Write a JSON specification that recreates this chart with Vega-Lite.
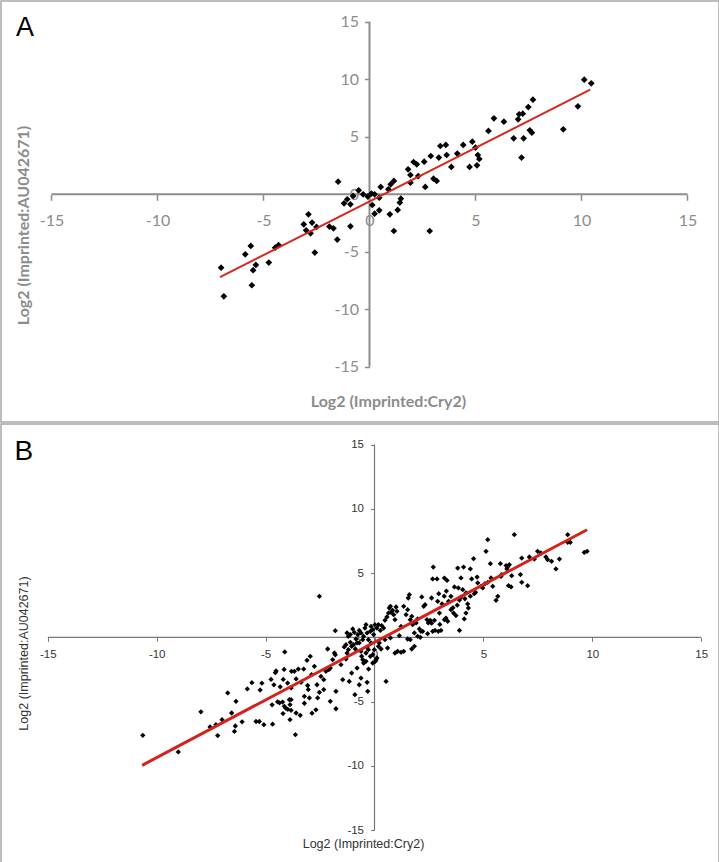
{
  "$schema": "https://vega.github.io/schema/vega-lite/v6.json",
  "padding": 0,
  "autosize": {"type": "pad"},
  "background": "white",
  "spacing": 0,
  "config": {"view": {"stroke": "#a8a8a8", "strokeWidth": 1.5}},
  "datasets": {
    "ptsA": [
      {"x":-7.0,"y":-6.38},{"x":-6.87,"y":-8.87},{"x":-5.86,"y":-5.22},{"x":-5.6,"y":-4.49},{"x":-5.49,"y":-6.6},{"x":-5.36,"y":-6.14},{"x":-5.55,"y":-7.91},{"x":-4.75,"y":-5.94},{"x":-4.45,"y":-4.64},{"x":-4.29,"y":-4.41},
      {"x":-3.1,"y":-2.61},{"x":-2.88,"y":-1.74},{"x":-2.99,"y":-3.13},{"x":-2.78,"y":-3.39},{"x":-2.71,"y":-2.46},{"x":-2.5,"y":-2.84},{"x":-2.58,"y":-5.07},{"x":-1.89,"y":-2.81},{"x":-1.7,"y":-2.96},{"x":-1.52,"y":-3.94},
      {"x":-1.48,"y":1.1},{"x":-1.2,"y":-0.78},{"x":-1.05,"y":-0.43},{"x":-0.9,"y":-0.87},{"x":-0.9,"y":-2.78},{"x":-0.77,"y":-0.14},{"x":-0.51,"y":0.35},{"x":-0.3,"y":0},{"x":-0.08,"y":-0.2},{"x":0.09,"y":0.06},
      {"x":0.24,"y":0},{"x":0.13,"y":-0.93},{"x":0.24,"y":-1.68},{"x":0.46,"y":-1.39},{"x":0.46,"y":-0.29},{"x":0.53,"y":0.64},{"x":0.89,"y":0.43},{"x":1.0,"y":0.87},{"x":1.15,"y":1.16},{"x":0.96,"y":-1.74},
      {"x":1.15,"y":-3.19},{"x":1.33,"y":-1.36},{"x":1.48,"y":-0.38},{"x":1.43,"y":-0.72},{"x":1.82,"y":2.17},{"x":1.93,"y":1.68},{"x":1.93,"y":1.01},{"x":2.08,"y":2.81},{"x":2.23,"y":2.61},{"x":2.3,"y":1.59},
      {"x":2.58,"y":2.84},{"x":2.63,"y":0.64},{"x":2.84,"y":-3.19},{"x":2.89,"y":3.33},{"x":3.02,"y":1.36},{"x":3.17,"y":1.16},{"x":3.27,"y":3.19},{"x":3.34,"y":4.2},{"x":3.6,"y":4.29},{"x":3.64,"y":3.42},
      {"x":3.86,"y":2.38},{"x":4.14,"y":3.54},{"x":4.42,"y":4.29},{"x":4.72,"y":2.38},{"x":4.85,"y":4.58},{"x":5.0,"y":4.06},{"x":5.07,"y":2.52},{"x":5.11,"y":3.42},{"x":5.18,"y":3.07},{"x":5.61,"y":5.51},
      {"x":5.87,"y":6.61},{"x":6.34,"y":6.32},{"x":6.8,"y":4.87},{"x":7.01,"y":6.52},{"x":7.06,"y":6.96},{"x":7.23,"y":7.01},{"x":7.17,"y":3.19},{"x":7.27,"y":4.87},{"x":7.49,"y":7.59},{"x":7.56,"y":5.57},
      {"x":7.66,"y":5.36},{"x":7.71,"y":8.23},{"x":9.14,"y":5.65},{"x":9.83,"y":7.65},{"x":10.13,"y":9.97},{"x":10.46,"y":9.65}
    ],
    "ptsB": [
      {"x":-10.64,"y":-7.63},{"x":-9.01,"y":-8.92},{"x":-7.97,"y":-5.8},{"x":-7.55,"y":-6.98},{"x":-7.28,"y":-6.8},{"x":-7.2,"y":-7.65},{"x":-7.0,"y":-6.41},{"x":-6.74,"y":-4.33},{"x":-6.56,"y":-5.89},{"x":-6.43,"y":-7.32},
      {"x":-6.39,"y":-6.9},{"x":-6.36,"y":-4.98},{"x":-6.08,"y":-6.58},{"x":-5.84,"y":-4.02},{"x":-5.63,"y":-3.53},{"x":-5.44,"y":-6.55},{"x":-5.29,"y":-6.55},{"x":-5.25,"y":-4.1},{"x":-5.17,"y":-3.57},{"x":-5.08,"y":-6.8},
      {"x":-4.75,"y":-3.28},{"x":-4.68,"y":-6.76},{"x":-4.7,"y":-5.25},{"x":-4.62,"y":-3.7},{"x":-4.55,"y":-2.75},{"x":-4.52,"y":-2.62},{"x":-4.45,"y":-5.02},{"x":-4.36,"y":-5.1},{"x":-4.33,"y":-3.85},{"x":-4.22,"y":-5.04},
      {"x":-4.2,"y":-5.93},{"x":-4.19,"y":-3.28},{"x":-4.15,"y":-2.5},{"x":-4.14,"y":-5.37},{"x":-4.12,"y":-1.14},{"x":-4.07,"y":-5.52},{"x":-3.99,"y":-3.56},{"x":-3.98,"y":-5.6},{"x":-3.91,"y":-4.85},{"x":-3.88,"y":-5.24},
      {"x":-3.88,"y":-6.41},{"x":-3.83,"y":-5.68},{"x":-3.81,"y":-2.65},{"x":-3.63,"y":-7.58},{"x":-3.6,"y":-5.89},{"x":-3.41,"y":-6.07},{"x":-3.22,"y":-5.13},{"x":-2.87,"y":-5.9},{"x":-2.69,"y":-5.64},{"x":-1.77,"y":-5.56},
      {"x":-3.83,"y":-3.94},{"x":-3.68,"y":-2.65},{"x":-3.6,"y":-3.24},{"x":-3.5,"y":-2.47},{"x":-3.37,"y":-3.5},{"x":-3.25,"y":-2.47},{"x":-3.1,"y":-1.79},{"x":-3.04,"y":-4.07},{"x":-2.95,"y":-1.48},{"x":-2.89,"y":-2.91},
      {"x":-2.76,"y":-2.26},{"x":-2.64,"y":-3.69},{"x":-2.53,"y":-4.28},{"x":-2.46,"y":-3.04},{"x":-2.33,"y":-4.07},{"x":-2.23,"y":-2.65},{"x":-2.15,"y":-0.91},{"x":-2.1,"y":-2.52},{"x":-2.03,"y":-2.39},{"x":-1.92,"y":-1.74},
      {"x":-1.84,"y":-1.22},{"x":-1.77,"y":-4.2},{"x":-1.54,"y":-2.13},{"x":-1.46,"y":-3.3},{"x":-1.31,"y":-1.69},{"x":-1.16,"y":-3.43},{"x":-1.05,"y":-2.78},{"x":-0.9,"y":-4.46},{"x":-0.8,"y":-2.39},{"x":-0.7,"y":-3.69},
      {"x":-0.62,"y":-3.17},{"x":-0.59,"y":-1.48},{"x":-0.5,"y":-2.0},{"x":-0.39,"y":-1.87},{"x":-0.34,"y":-3.5},{"x":-0.31,"y":-4.2},{"x":-0.27,"y":-2.47},{"x":-0.19,"y":-1.48},{"x":-0.08,"y":-2.0},{"x":0.04,"y":-1.87},
      {"x":0.11,"y":-1.61},{"x":-3.83,"y":-4.85},{"x":-3.22,"y":-4.59},{"x":-2.99,"y":-4.72},{"x":-2.61,"y":-4.72},{"x":-2.03,"y":-4.98},{"x":-2.53,"y":3.19},{"x":-1.8,"y":0.52},{"x":0.53,"y":-3.43},{"x":-2.33,"y":-3.3},
      {"x":-1.8,"y":-1.36},{"x":-1.26,"y":-1.23},{"x":-3.07,"y":-3.75},
      {"x":-1.26,"y":0.34},{"x":-1.2,"y":0.08},{"x":-1.11,"y":0.21},{"x":-1.0,"y":0.65},{"x":-0.93,"y":0.39},{"x":-0.85,"y":-0.13},{"x":-0.77,"y":0.21},{"x":-0.7,"y":0.54},{"x":-0.62,"y":0.34},{"x":-0.54,"y":-0.18},
      {"x":-0.5,"y":0.08},{"x":-0.44,"y":0.72},{"x":-0.39,"y":0.98},{"x":-0.34,"y":0.34},{"x":-0.28,"y":-0.18},{"x":-0.19,"y":0.47},{"x":-0.16,"y":0.85},{"x":-0.08,"y":0.6},{"x":-0.04,"y":0.21},{"x":0.02,"y":0.98},
      {"x":0.11,"y":0.72},{"x":0.18,"y":0.98},{"x":0.27,"y":0.54},{"x":0.33,"y":0.91},{"x":0.42,"y":0.72},{"x":0.48,"y":1.32},{"x":0.57,"y":1.58},{"x":0.64,"y":1.89},{"x":0.68,"y":2.28},{"x":0.73,"y":2.41},
      {"x":0.76,"y":1.94},{"x":0.83,"y":2.1},{"x":0.88,"y":1.76},{"x":0.94,"y":1.37},{"x":0.99,"y":2.36},{"x":1.03,"y":2.02},{"x":1.14,"y":0.13},{"x":1.22,"y":0.85},{"x":1.34,"y":2.41},{"x":1.45,"y":1.76},
      {"x":1.52,"y":2.15},{"x":1.55,"y":3.06},{"x":1.6,"y":3.32},{"x":1.64,"y":1.37},{"x":1.71,"y":1.63},{"x":1.75,"y":0.98},{"x":1.83,"y":0.34},{"x":1.91,"y":1.12},{"x":1.98,"y":1.43},{"x":2.06,"y":0.65},
      {"x":2.13,"y":0.47},{"x":2.17,"y":3.14},{"x":2.26,"y":2.41},{"x":2.32,"y":2.54},{"x":2.41,"y":1.37},{"x":2.47,"y":1.12},{"x":2.56,"y":1.32},{"x":2.62,"y":3.06},{"x":2.67,"y":4.54},{"x":2.7,"y":5.47},
      {"x":2.78,"y":0.54},{"x":2.87,"y":4.54},{"x":2.9,"y":2.8},{"x":2.93,"y":0.47},{"x":2.98,"y":1.89},
      {"x":-1.39,"y":-0.75},{"x":-1.31,"y":-0.57},{"x":-1.2,"y":-0.96},{"x":-1.11,"y":-0.39},{"x":-1.05,"y":-0.7},{"x":-0.96,"y":-0.57},{"x":-0.88,"y":-0.91},{"x":-0.8,"y":-0.44},{"x":-0.7,"y":-0.44},{"x":-0.62,"y":-1.09},
      {"x":-0.54,"y":-1.74},{"x":-0.47,"y":-1.95},{"x":-0.39,"y":-1.22},{"x":-0.34,"y":-0.75},{"x":-0.28,"y":-0.96},{"x":-0.16,"y":-0.44},{"x":-0.08,"y":-1.35},{"x":-0.01,"y":-0.96},{"x":0.07,"y":-1.74},{"x":0.18,"y":-0.7},
      {"x":0.22,"y":-0.44},{"x":0.3,"y":-0.91},{"x":0.48,"y":-0.18},{"x":0.6,"y":-0.83},{"x":0.73,"y":-0.05},{"x":0.94,"y":-1.22},{"x":1.06,"y":-1.09},{"x":1.22,"y":-1.17},{"x":1.34,"y":-1.09},{"x":1.52,"y":-0.13},
      {"x":1.64,"y":-0.18},{"x":1.71,"y":-0.91},{"x":1.83,"y":-0.7},{"x":1.98,"y":0.08},{"x":2.1,"y":0.0},{"x":2.21,"y":0.47},{"x":2.44,"y":0.28},{"x":2.67,"y":0.47},
      {"x":3.21,"y":4.61},{"x":3.33,"y":4.43},{"x":3.82,"y":5.39},{"x":4.09,"y":5.47},{"x":4.55,"y":6.12},{"x":5.12,"y":6.69},{"x":5.2,"y":7.6},{"x":6.42,"y":7.99},{"x":5.32,"y":5.73},{"x":5.78,"y":5.73},
      {"x":6.04,"y":5.58},{"x":6.11,"y":5.47},{"x":6.19,"y":5.65},{"x":6.08,"y":5.32},{"x":6.3,"y":4.8},{"x":6.15,"y":4.02},{"x":6.27,"y":3.92},{"x":6.76,"y":6.17},{"x":7.11,"y":6.25},{"x":7.34,"y":6.09},
      {"x":7.49,"y":6.69},{"x":7.64,"y":6.56},{"x":7.87,"y":6.25},{"x":7.95,"y":6.04},{"x":8.13,"y":5.91},{"x":8.33,"y":5.32},{"x":8.49,"y":6.09},{"x":7.03,"y":4.02},{"x":6.7,"y":4.88},{"x":6.76,"y":4.28},
      {"x":8.87,"y":7.99},{"x":8.87,"y":7.39},{"x":8.99,"y":7.39},{"x":9.63,"y":6.61},{"x":9.76,"y":6.69},{"x":3.51,"y":3.19},{"x":3.67,"y":3.92},{"x":3.85,"y":3.84},{"x":3.97,"y":4.62},{"x":4.05,"y":3.71},
      {"x":4.4,"y":5.32},{"x":4.46,"y":4.54},{"x":4.71,"y":4.69},{"x":4.74,"y":4.23},{"x":4.89,"y":3.97},{"x":4.97,"y":3.84},{"x":5.07,"y":4.17},{"x":5.2,"y":4.28},{"x":5.35,"y":4.62},{"x":5.43,"y":3.97},
      {"x":5.58,"y":2.88},{"x":5.66,"y":3.19},{"x":5.81,"y":4.75},{"x":5.84,"y":4.88},{"x":4.2,"y":1.89},{"x":4.31,"y":2.28},{"x":4.12,"y":1.43},{"x":3.9,"y":0.54},{"x":3.05,"y":0.54},{"x":3.28,"y":1.5},
      {"x":3.36,"y":1.25},{"x":3.21,"y":1.37},{"x":3.63,"y":1.89},{"x":3.74,"y":1.69},{"x":3.51,"y":2.15},{"x":2.75,"y":1.32},{"x":2.62,"y":1.1},{"x":3.0,"y":1.0},{"x":4.58,"y":3.4},{"x":4.64,"y":3.5},
      {"x":4.4,"y":3.2},{"x":4.28,"y":2.6},{"x":4.15,"y":3.0},{"x":3.95,"y":3.1},{"x":3.8,"y":2.5},{"x":3.6,"y":2.3},{"x":3.4,"y":2.8},{"x":3.2,"y":3.2},{"x":3.1,"y":2.6},{"x":2.95,"y":3.4},
      {"x":3.3,"y":3.6},{"x":3.9,"y":2.9},{"x":4.2,"y":3.45}
    ]
  },
  "vconcat": [
    {
      "width": 718,
      "height": 421,
      "layer": [
        {"data": {"values": [{"x": -15, "x2": 15, "y": 0}]}, "mark": {"type": "rule", "color": "#8c8c8c", "strokeWidth": 2},
          "encoding": {"x": {"field": "x", "type": "quantitative", "scale": {"domain": [-17.382, 16.486], "nice": false, "zero": false}},
            "x2": {"field": "x2"},
            "y": {"field": "y", "type": "quantitative", "scale": {"domain": [-19.8, 16.81], "nice": false, "zero": false}}}},
        {"data": {"values": [{"x": 0, "y": -15, "y2": 15}]}, "mark": {"type": "rule", "color": "#8c8c8c", "strokeWidth": 2},
          "encoding": {"x": {"field": "x", "type": "quantitative", "scale": {"domain": [-17.382, 16.486], "nice": false, "zero": false}},
            "y": {"field": "y", "type": "quantitative", "scale": {"domain": [-19.8, 16.81], "nice": false, "zero": false}},
            "y2": {"field": "y2"}}},
        {"data": {"name": "ptsA"}, "mark": {"type": "point", "shape": "diamond", "filled": true, "color": "#000000", "size": 45, "opacity": 1},
          "encoding": {
            "x": {"field": "x", "type": "quantitative",
              "scale": {"domain": [-17.382, 16.486], "nice": false, "zero": false},
              "axis": {"values": [-15, -10, -5, 0, 5, 10, 15], "offset": -227.7, "domain": false, "grid": false,
                "tickSize": 6, "tickColor": "#8c8c8c", "tickWidth": 1.5,
                "labelExpr": "'' + datum.value", "labelFont": "Lato", "labelFontSize": 16, "labelColor": "#8c8c8c",
                "labelPadding": 20, "labelBaseline": "middle", "labelOverlap": false, "labelFlush": false, "labelBound": false,
                "title": "Log2 (Imprinted:Cry2)", "titleFont": "Lato", "titleFontSize": 16, "titleFontWeight": "bold", "titleColor": "#8c8c8c",
                "titleX": 387, "titleY": 207, "titleBaseline": "middle", "titleAlign": "center"}},
            "y": {"field": "y", "type": "quantitative",
              "scale": {"domain": [-19.8, 16.81], "nice": false, "zero": false},
              "axis": {"values": [-15, -10, -5, 0, 5, 10, 15], "offset": -368.5, "domain": false, "grid": false,
                "tickSize": 5, "tickColor": "#8c8c8c", "tickWidth": 1.5,
                "labelExpr": "'' + datum.value", "labelFont": "Lato", "labelFontSize": 16, "labelColor": "#8c8c8c",
                "labelPadding": 6, "labelOverlap": false, "labelFlush": false, "labelBound": false,
                "title": "Log2 (Imprinted:AU042671)", "titleFont": "Lato", "titleFontSize": 16, "titleFontWeight": "bold", "titleColor": "#8c8c8c",
                "titleX": -346.5, "titleY": 224, "titleBaseline": "middle", "titleAlign": "center"}}}},
        {"data": {"values": [{"x": -7.05, "y": -7.2}, {"x": 10.41, "y": 9.1}]}, "mark": {"type": "line", "color": "#d6281e", "strokeWidth": 2},
          "encoding": {"x": {"field": "x", "type": "quantitative", "scale": {"domain": [-17.382, 16.486], "nice": false, "zero": false}},
            "y": {"field": "y", "type": "quantitative", "scale": {"domain": [-19.8, 16.81], "nice": false, "zero": false}}}},
        {"data": {"values": [{"panel": "A"}]}, "mark": {"type": "text", "font": "Liberation Sans", "fontSize": 27, "color": "#000000", "align": "center", "baseline": "alphabetic"},
          "encoding": {"x": {"datum": -16.25, "type": "quantitative"}, "y": {"datum": 13.77, "type": "quantitative"}, "text": {"field": "panel"}}}
      ]
    },
    {
      "width": 718,
      "height": 440,
      "layer": [
        {"data": {"values": [{"x": -15, "x2": 15, "y": 0}]}, "mark": {"type": "rule", "color": "#777777", "strokeWidth": 1.2},
          "encoding": {"x": {"field": "x", "type": "quantitative", "scale": {"domain": [-17.149, 15.817], "nice": false, "zero": false}},
            "x2": {"field": "x2"},
            "y": {"field": "y", "type": "quantitative", "scale": {"domain": [-17.64, 16.6], "nice": false, "zero": false}}}},
        {"data": {"values": [{"x": 0, "y": -15, "y2": 15}]}, "mark": {"type": "rule", "color": "#777777", "strokeWidth": 1.2},
          "encoding": {"x": {"field": "x", "type": "quantitative", "scale": {"domain": [-17.149, 15.817], "nice": false, "zero": false}},
            "y": {"field": "y", "type": "quantitative", "scale": {"domain": [-17.64, 16.6], "nice": false, "zero": false}},
            "y2": {"field": "y2"}}},
        {"data": {"name": "ptsB"}, "mark": {"type": "point", "shape": "diamond", "filled": true, "color": "#000000", "size": 28, "opacity": 1},
          "encoding": {
            "x": {"field": "x", "type": "quantitative",
              "scale": {"domain": [-17.149, 15.817], "nice": false, "zero": false},
              "axis": {"values": [-15, -10, -5, 0, 5, 10, 15], "offset": -226.7, "domain": false, "grid": false,
                "tickSize": 4, "tickColor": "#777777", "tickWidth": 1,
                "labelExpr": "'' + datum.value", "labelFont": "Liberation Sans", "labelFontSize": 11.5, "labelColor": "#333333",
                "labelPadding": 13, "labelBaseline": "middle", "labelOverlap": false, "labelFlush": false, "labelBound": false,
                "title": "Log2 (Imprinted:Cry2)", "titleFont": "Liberation Sans", "titleFontSize": 12.5, "titleFontWeight": "normal", "titleColor": "#333333",
                "titleX": 362, "titleY": 206, "titleBaseline": "middle", "titleAlign": "center"}},
            "y": {"field": "y", "type": "quantitative",
              "scale": {"domain": [-17.64, 16.6], "nice": false, "zero": false},
              "axis": {"values": [-15, -10, -5, 0, 5, 10, 15], "offset": -373.5, "domain": false, "grid": false,
                "tickSize": 4, "tickColor": "#777777", "tickWidth": 1,
                "labelExpr": "'' + datum.value", "labelFont": "Liberation Sans", "labelFontSize": 11.5, "labelColor": "#333333",
                "labelPadding": 7, "labelOverlap": false, "labelFlush": false, "labelBound": false,
                "title": "Log2 (Imprinted:AU042671)", "titleFont": "Liberation Sans", "titleFontSize": 12.5, "titleFontWeight": "normal", "titleColor": "#333333",
                "titleX": -351.5, "titleY": 229, "titleBaseline": "middle", "titleAlign": "center"}}}},
        {"data": {"values": [{"x": -10.67, "y": -9.96}, {"x": 9.76, "y": 8.37}]}, "mark": {"type": "line", "color": "#d4221b", "strokeWidth": 3},
          "encoding": {"x": {"field": "x", "type": "quantitative", "scale": {"domain": [-17.149, 15.817], "nice": false, "zero": false}},
            "y": {"field": "y", "type": "quantitative", "scale": {"domain": [-17.64, 16.6], "nice": false, "zero": false}}}},
        {"data": {"values": [{"panel": "B"}]}, "mark": {"type": "text", "font": "Liberation Sans", "fontSize": 28, "color": "#000000", "align": "center", "baseline": "alphabetic"},
          "encoding": {"x": {"datum": -16.1, "type": "quantitative"}, "y": {"datum": 13.8, "type": "quantitative"}, "text": {"field": "panel"}}}
      ]
    }
  ]
}
